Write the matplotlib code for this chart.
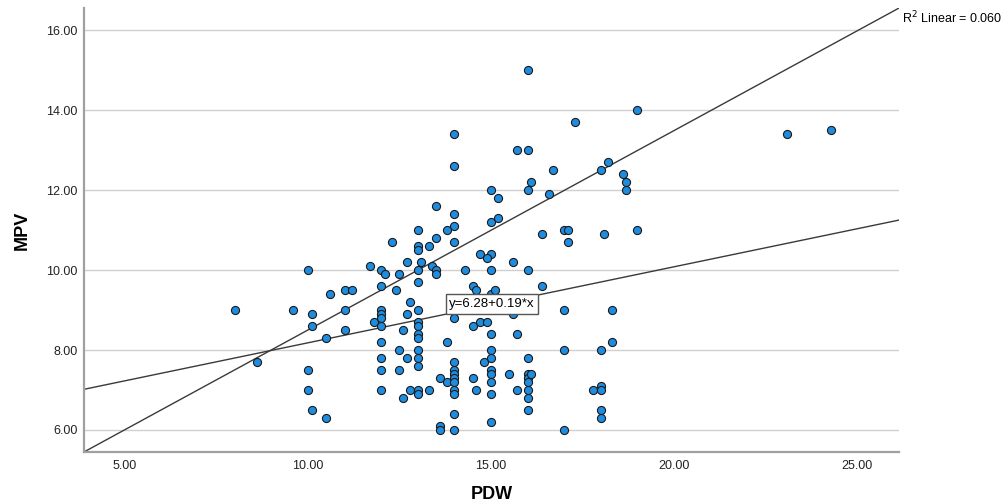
import numpy as np
import matplotlib
matplotlib.use("Agg")
import matplotlib.pyplot as plt

plt.rcParams['font.family'] = ['Liberation Sans', 'DejaVu Sans']

# PDW / MPV values
pdw = [10.0, 11.7, 10.6, 11.0, 11.2, 8.0, 9.6, 10.1, 11.0, 10.1, 11.0, 10.5, 11.8,
       8.6, 10.0, 10.0, 10.1, 10.5,
       12.0, 12.1, 12.5, 12.3, 12.7, 13.1, 13.4, 13.5, 13.5, 13.0, 13.5, 14.0, 15.0,
       15.2, 14.0, 13.8, 13.0, 16.4, 17.0, 17.1, 17.1, 13.5, 14.0, 13.0, 13.0, 13.3,
       14.7, 15.0, 14.9, 15.6, 14.3, 15.0, 16.0, 13.0, 12.0, 12.4, 14.5, 14.6, 15.0,
       15.1, 16.4, 12.8, 12.0, 12.0, 12.0, 13.0, 12.7, 12.0, 13.0, 13.0, 13.0, 13.0,
       13.0, 13.0, 13.0, 12.6, 14.0, 14.5, 14.7, 14.9, 15.0, 15.7, 15.6, 17.0, 13.8,
       12.0, 12.0, 12.0, 12.0, 12.5, 12.5, 12.7, 12.6, 12.8, 13.0, 13.0, 13.3, 13.6,
       13.8, 14.0, 14.0, 14.0, 14.0, 14.0, 14.0, 14.0, 14.0, 14.0, 13.6, 13.6, 14.5,
       14.6, 14.8, 15.0, 15.0, 15.0, 15.0, 15.0, 15.0, 15.0, 15.5, 15.7, 16.0, 16.0,
       16.0, 16.0, 16.0, 16.0, 16.0, 16.1, 17.0, 17.0,
       16.0, 19.0, 14.0, 17.3, 15.7, 16.0, 14.0, 16.7, 18.0, 18.2, 18.6, 18.7, 18.7,
       16.1, 15.0, 16.0, 15.2, 16.6,
       23.1, 24.3, 19.0, 18.1, 18.3, 18.3, 18.0, 17.8, 18.0, 18.0, 18.0, 18.0]
mpv = [10.0, 10.1, 9.4, 9.5, 9.5, 9.0, 9.0, 8.9, 9.0, 8.6, 8.5, 8.3, 8.7,
       7.7, 7.5, 7.0, 6.5, 6.3,
       10.0, 9.9, 9.9, 10.7, 10.2, 10.2, 10.1, 10.0, 9.9, 10.0, 11.6, 11.4, 11.2,
       11.3, 11.1, 11.0, 11.0, 10.9, 11.0, 11.0, 10.7, 10.8, 10.7, 10.6, 10.5, 10.6,
       10.4, 10.4, 10.3, 10.2, 10.0, 10.0, 10.0, 9.7, 9.6, 9.5, 9.6, 9.5, 9.4,
       9.5, 9.6, 9.2, 9.0, 8.9, 8.8, 9.0, 8.9, 8.6, 8.7, 8.6, 8.4, 8.3,
       8.0, 7.8, 7.6, 8.5, 8.8, 8.6, 8.7, 8.7, 8.4, 8.4, 8.9, 9.0, 8.2,
       8.2, 7.8, 7.5, 7.0, 8.0, 7.5, 7.8, 6.8, 7.0, 7.0, 6.9, 7.0, 7.3,
       7.2, 7.7, 7.5, 7.4, 7.3, 7.2, 7.0, 6.9, 6.4, 6.0, 6.1, 6.0, 7.3,
       7.0, 7.7, 8.0, 7.8, 7.5, 7.4, 7.2, 6.9, 6.2, 7.4, 7.0, 7.8, 7.4,
       7.3, 7.2, 7.0, 6.8, 6.5, 7.4, 8.0, 6.0,
       15.0, 14.0, 13.4, 13.7, 13.0, 13.0, 12.6, 12.5, 12.5, 12.7, 12.4, 12.2, 12.0,
       12.2, 12.0, 12.0, 11.8, 11.9,
       13.4, 13.5, 11.0, 10.9, 9.0, 8.2, 8.0, 7.0, 7.1, 7.0, 6.5, 6.3]

fit_intercept = 6.28
fit_slope = 0.19
r2_text = "R$^2$ Linear = 0.060"
eq_text = "y=6.28+0.19*x"
x_ticks = [5, 10, 15, 20, 25]
y_ticks = [6, 8, 10, 12, 14, 16]

fig = plt.figure(figsize=(10.03, 5.03), dpi=100)
ax = fig.add_axes([0.0837, 0.1014, 0.8126, 0.8826])

ax.set_xlim(3.88, 26.15)
ax.set_ylim(5.45, 16.55)

for yt in y_ticks:
    ax.axhline(yt, color='#d0d0d0', lw=1, zorder=0)

ax.scatter(pdw, mpv, s=34, facecolor='#1f8ddf', edgecolor='#1a1a1a',
           linewidth=0.8, zorder=3)

# fit line across the full x range
xs = np.array(ax.get_xlim())
ax.plot(xs, fit_intercept + fit_slope * xs, color='#3a3a3a', lw=1, zorder=2)

# corner to corner reference line
ax.plot([0, 1], [0, 1], transform=ax.transAxes, color='#3a3a3a', lw=1, zorder=2)

ax.text(15.03, 9.15, eq_text, fontsize=9.5, ha='center', va='center', zorder=5,
        bbox=dict(boxstyle='square,pad=0.28', fc='white', ec='#555555', lw=1))

ax.text(1.004, 0.977, r2_text, transform=ax.transAxes, fontsize=9,
        ha='left', va='center', clip_on=False)

ax.set_xticks(x_ticks)
ax.set_yticks(y_ticks)
ax.set_xticklabels([f"{v:.2f}" for v in x_ticks])
ax.set_yticklabels([f"{v:.2f}" for v in y_ticks])
ax.tick_params(length=0, labelsize=9, colors='#222222')
ax.tick_params(axis='x', pad=6)
ax.tick_params(axis='y', pad=4.5)

for side in ['top', 'right']:
    ax.spines[side].set_visible(False)
for side in ['left', 'bottom']:
    ax.spines[side].set_color('#a0a0a0')
    ax.spines[side].set_linewidth(1.6)

ax.set_xlabel("PDW", fontsize=13, fontweight='bold', labelpad=10)
ax.set_ylabel("MPV", fontsize=13, fontweight='bold', labelpad=11)

fig.savefig("out.png", dpi=100)
